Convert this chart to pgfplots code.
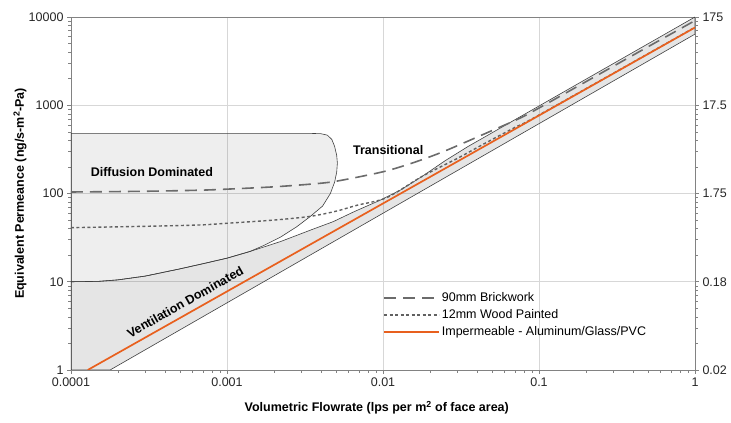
\documentclass[border=0pt]{standalone}
\usepackage{fontspec}
\setmainfont{Liberation Sans}
\setsansfont{Liberation Sans}
\usepackage{pgfplots}
\pgfplotsset{compat=1.18}
\definecolor{orng}{RGB}{232,96,30}
\definecolor{gridc}{RGB}{215,215,215}
\definecolor{axc}{RGB}{130,130,130}
\begin{document}
\begin{tikzpicture}
\begin{axis}[
  name=main,
  scale only axis, width=624pt, height=353pt,
  xmode=log, ymode=log,
  xmin=1e-4, xmax=1, ymin=1, ymax=10000,
  xtick={1e-4,1e-3,1e-2,1e-1,1},
  xticklabels={0.0001,0.001,0.01,0.1,1},
  ytick={1,10,100,1000,10000},
  yticklabels={1,10,100,1000,10000},
  xtick pos=bottom, ytick pos=left,
  tick align=outside,
  major tick length=4pt, minor tick length=3pt,
  every tick/.style={axc, line width=0.5pt},
  axis line style={axc, line width=0.8pt},
  grid=major, major grid style={gridc, line width=0.5pt},
  tick label style={font=\fontsize{12.5}{15}\selectfont, text=black!85},
  xlabel={Volumetric Flowrate (lps per m\textsuperscript{2} of face area)},
  ylabel={Equivalent Permeance (ng/s-m\textsuperscript{2}-Pa)},
  label style={font=\bfseries\fontsize{12.5}{15}\selectfont},
  xlabel style={at={(axis description cs:0.49,-0.1076)}, anchor=center},
  ylabel style={at={(axis description cs:-0.0817,0.5)}, anchor=center},
  legend style={at={(axis description cs:0.5,0.225)}, anchor=north west,
    draw=none, fill=none, font=\fontsize{12.5}{15}\selectfont,
    row sep=2.5pt, inner sep=0pt},
  legend cell align=left,
  legend image code/.code={\draw[#1] (0pt,0pt) -- (55pt,0pt);},
]
% ventilation region
\addplot[draw=black!75, line width=0.6pt, fill=black, fill opacity=0.10, forget plot] coordinates {
(1e-4,1) (1e-4,10) (0.00015,10.1) (0.0002,10.5) (0.0003,11.6) (0.0005,14) (0.0007,16)
(0.001,18.5) (0.0014,22) (0.0022,28.5) (0.0035,39) (0.0048,48) (0.0065,62) (0.0096,84)
(0.013,110) (0.018,158) (0.025,235) (0.035,340) (1,10000) (1,6400) (0.000178,1)} -- cycle;
% diffusion region
\addplot[draw=black!75, line width=0.6pt, fill=black, fill opacity=0.065, forget plot] coordinates {
(1e-4,10) (1e-4,480) (0.0034,480) (0.0040,476) (0.0044,458) (0.0047,410) (0.0049,340)
(0.00505,270) (0.0051,221) (0.00505,175) (0.0049,135) (0.0046,100) (0.0041,72)
(0.0034,54.5) (0.0028,42) (0.0022,32) (0.0017,25.5) (0.0014,22) (0.001,18.5)
(0.0007,16) (0.0005,14) (0.0003,11.6) (0.0002,10.5) (0.00015,10.1)} -- cycle;
% series
\addplot[color=black!58, line width=1.6pt, dash pattern=on 12pt off 7pt, smooth] coordinates {
(1e-4,104) (0.0003,106) (0.00067,109) (0.001,112) (0.002,119) (0.0035,128) (0.0048,136)
(0.0075,158) (0.011,184) (0.017,235) (0.0257,310) (0.0507,522) (0.0755,714) (0.1,930)
(0.2,1850) (0.5,4600) (1,9100)};
\addlegendentry{90mm Brickwork}
\addplot[color=black!62, line width=1.4pt, dash pattern=on 3pt off 2.5pt, smooth] coordinates {
(1e-4,41) (0.0003,42.5) (0.00067,44) (0.001,46) (0.002,50) (0.0034,55) (0.005,63)
(0.0068,73.5) (0.0106,90) (0.018,158) (0.03,250) (0.044,362) (0.07,560) (0.1,775) (1,7650)};
\addlegendentry{12mm Wood Painted}
\addplot[color=orng, line width=1.7pt] coordinates {(0.000128,1) (1,7600)};
\addlegendentry{Impermeable - Aluminum/Glass/PVC}
\node[font=\bfseries\fontsize{12.5}{15}\selectfont] at (axis cs:0.00033,175) {Diffusion Dominated};
\node[font=\bfseries\fontsize{12.5}{15}\selectfont] at (axis cs:0.0108,310) {Transitional};
\node[font=\bfseries\fontsize{12.5}{15}\selectfont, rotate=29.5] at (axis cs:0.00054,5.9) {Ventilation Dominated};
\end{axis}
\begin{axis}[
  scale only axis, width=624pt, height=353pt,
  xmode=log, ymode=log,
  xmin=1e-4, xmax=1, ymin=0.0175, ymax=175,
  axis x line=none, axis y line*=right,
  ytick={0.0175,0.175,1.75,17.5,175},
  yticklabels={0.02,0.18,1.75,17.5,175},
  minor ytick={},
  tick align=outside, major tick length=4pt,
  every tick/.style={axc, line width=0.5pt},
  axis line style={axc, line width=0.8pt},
  tick label style={font=\fontsize{12.5}{15}\selectfont, text=black!85},
]
\addplot[draw=none] coordinates {(1e-4,1)};
\end{axis}
\pgfresetboundingbox
\path[use as bounding box] ([shift={(-71pt,-53pt)}]main.south west) rectangle ([shift={(36pt,17pt)}]main.north east);
\end{tikzpicture}
\end{document}
